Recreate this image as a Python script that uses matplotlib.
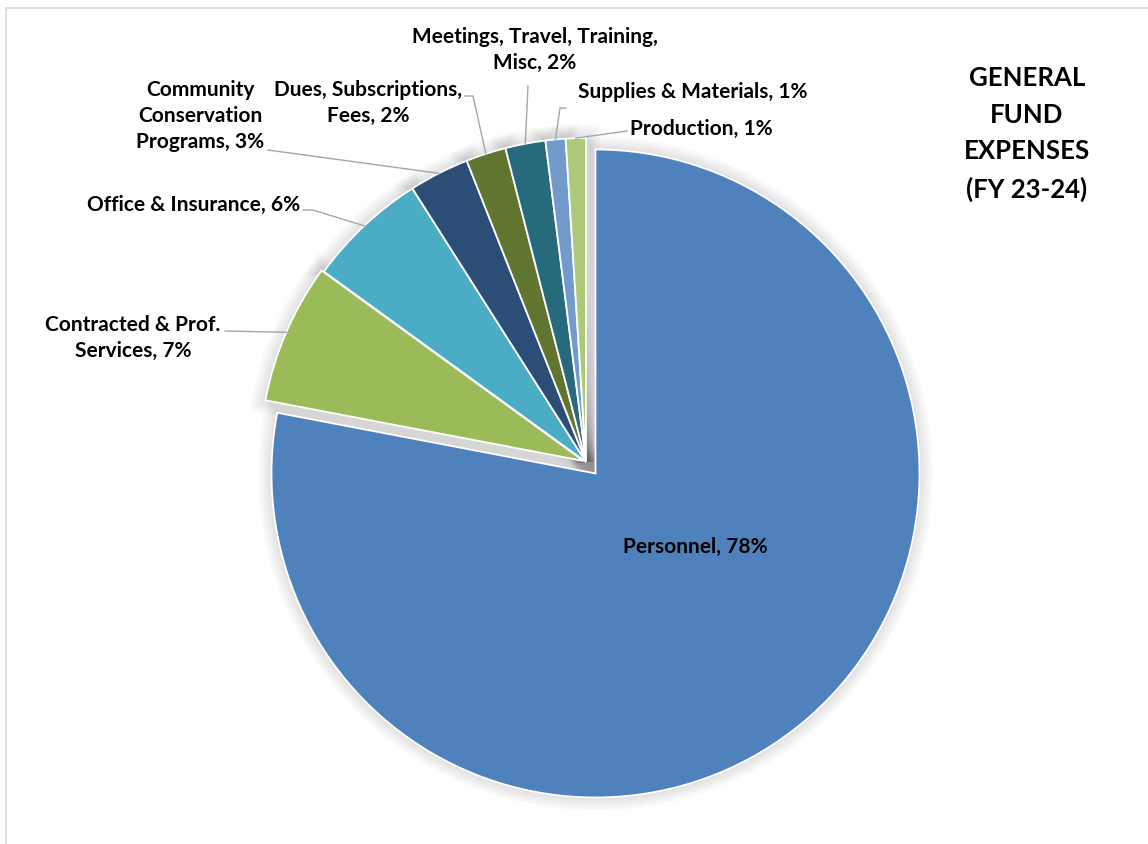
import matplotlib
matplotlib.use("Agg")
import matplotlib.pyplot as plt
from matplotlib.patches import Wedge, Rectangle
import numpy as np

# ── Data ──────────────────────────────────────────────────────────────────────

categories = [
    "Personnel",
    "Contracted & Prof.\nServices",
    "Office & Insurance",
    "Community\nConservation\nPrograms",
    "Dues, Subscriptions,\nFees",
    "Meetings, Travel, Training,\nMisc",
    "Supplies & Materials",
    "Production",
]
shares = [78, 7, 6, 3, 2, 2, 1, 1]   # percent of general fund
colors = ["#4F81BD", "#9BBB59", "#4BACC6", "#2C4D75",
          "#5F7530", "#276A7C", "#729ACA", "#AFC97A"]
explode = [0.046, 0.008, 0, 0, 0, 0, 0, 0]   # fraction of radius
title = "GENERAL\nFUND\nEXPENSES\n(FY 23-24)"

# ── Layout (pixel coords, y down) ─────────────────────────────────────────────

W, H = 1148, 844
CX, CY, R = 586, 462, 324

# label anchor, ha, leader path start points (label side)
label_layout = [
    ((695, 547), "center", None),
    ((133, 338), "center", [(225, 331)]),
    ((300, 205), "right", [(303, 210), (313, 210)]),
    ((200, 116), "center", [(268, 150)]),
    ((368, 103), "center", [(465, 96), (473, 96)]),
    ((535, 50), "center", [(528, 86)]),
    ((578, 92), "left", [(566, 108), (560, 108)]),
    ((630, 129), "left", [(627, 131)]),
]

FONT = ["Lato", "DejaVu Sans"]


def py(y):
    return H - y


fig = plt.figure(figsize=(W / 100, H / 100), dpi=100)
ax = fig.add_axes([0, 0, 1, 1])

# pie explode is in data units, so scale by the radius
wedges, _ = ax.pie(
    shares,
    colors=colors,
    explode=[e * R for e in explode],
    startangle=90,
    counterclock=False,
    radius=R,
    center=(CX, py(CY)),
    wedgeprops=dict(edgecolor="white", linewidth=1.3),
)
ax.set_xlim(0, W)
ax.set_ylim(0, H)
ax.set_aspect("equal")
ax.axis("off")

# soft drop glow behind the slices
for w in wedges:
    for lw in range(20, 0, -2):
        ax.add_patch(Wedge(w.center, w.r, w.theta1, w.theta2,
                           facecolor="none", edgecolor="black",
                           linewidth=lw, alpha=0.012, zorder=0))

# labels + leader lines
for w, name, val, (pos, ha, path) in zip(wedges, categories, shares, label_layout):
    ax.text(pos[0], py(pos[1]), f"{name}, {val}%", ha=ha, va="center",
            ma="center", fontsize=15, fontweight="bold", family=FONT,
            color="black", linespacing=1.4, zorder=5)
    if path is None:
        continue
    ang = np.deg2rad((w.theta1 + w.theta2) / 2)
    ex, ey = w.center[0] + w.r * np.cos(ang), w.center[1] + w.r * np.sin(ang)
    xs = [p[0] for p in path] + [ex]
    ys = [py(p[1]) for p in path] + [ey]
    ax.plot(xs, ys, color="#A6A6A6", lw=1, zorder=1)

ax.text(1027, py(134), title, ha="center", va="center", ma="center",
        fontsize=18.5, fontweight="bold", family=FONT, linespacing=1.63)

# chart area border
fig.patches.append(Rectangle((6 / W, -0.1), 1.2, 1 - 8 / H + 0.1,
                             transform=fig.transFigure, fill=False,
                             edgecolor="#D9D9D9", linewidth=1.2))

fig.savefig("out.png", dpi=100)
